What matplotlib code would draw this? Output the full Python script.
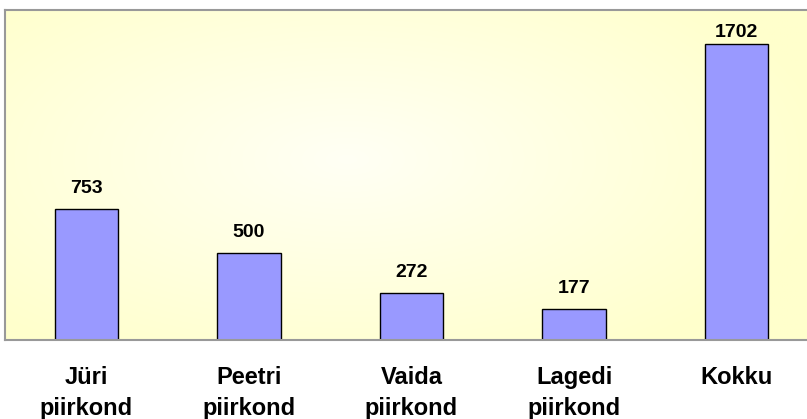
import matplotlib
matplotlib.use("Agg")
import matplotlib.pyplot as plt
import numpy as np

categories = ["Jüri\npiirkond", "Peetri\npiirkond", "Vaida\npiirkond", "Lagedi\npiirkond", "Kokku"]
values = [753, 500, 272, 177, 1702]

plt.rcParams['font.family'] = ['Liberation Sans', 'DejaVu Sans']

fig = plt.figure(figsize=(8.07, 4.19), dpi=100)
fig.patch.set_facecolor('white')
ax = fig.add_axes([5/807, (419-340)/419, 813/807, 330/419])

ymax = 1900
x = np.arange(len(categories))
ax.set_xlim(-0.5, len(categories) - 0.5)
ax.set_ylim(0, ymax)

# radial gradient background
ny, nx = 200, 400
yy, xx = np.mgrid[0:ny, 0:nx]
cx, cy = nx * 0.42, ny * 0.45
r = np.sqrt(((xx - cx) / (nx * 0.6)) ** 2 + ((yy - cy) / (ny * 0.7)) ** 2)
t = np.clip(r, 0, 1)
c_in = np.array([1.0, 1.0, 0.96])
c_out = np.array([1.0, 1.0, 0.80])
img = c_in[None, None, :] * (1 - t[..., None]) + c_out[None, None, :] * t[..., None]
ax.imshow(img, extent=[-0.5, len(categories) - 0.5, 0, ymax], aspect='auto', zorder=0)

ax.bar(x, values, width=0.39, color='#9999FF', edgecolor='black', linewidth=1.0, zorder=2)
label_offset = ymax * 0.037
label_top_limit = ymax * 0.905
for xi, v in zip(x, values):
    ax.text(xi, min(v + label_offset, label_top_limit), str(v), ha='center', va='bottom',
            fontsize=14, fontweight='bold', zorder=3)

ax.set_xticks(x)
ax.set_xticklabels(categories, fontsize=17, fontweight='bold', linespacing=1.47)
ax.tick_params(axis='x', length=0, pad=18.5)
ax.set_yticks([])
for s in ax.spines.values():
    s.set_color('#999999')
    s.set_linewidth(1.5)

fig.savefig('out.png', dpi=100)
